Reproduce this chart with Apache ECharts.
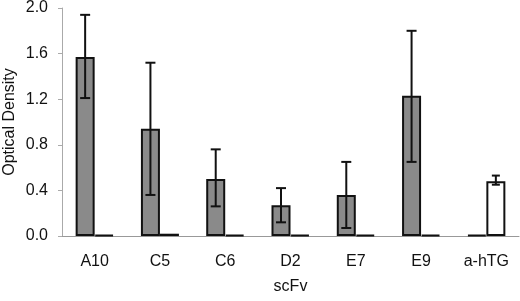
<!DOCTYPE html>
<html>
<head>
<meta charset="utf-8">
<script src="https://cdn.jsdelivr.net/npm/echarts@6/dist/echarts.min.js"></script>
<style>
  html, body { margin: 0; padding: 0; background: #fff; }
  #chart { width: 520px; height: 301px; }
</style>
</head>
<body>
<div id="chart"></div>
<script>
var categories = ['A10', 'C5', 'C6', 'D2', 'E7', 'E9', 'a-hTG'];

// grey bars and their error bars
var greyMean = [1.57, 0.94, 0.50, 0.27, 0.36, 1.23, 0.01];
var greyLow  = [1.21, 0.36, 0.26, 0.12, 0.07, 0.65, null];
var greyHigh = [1.94, 1.52, 0.76, 0.42, 0.65, 1.80, null];

// white bars and their error bars
var whiteMean = [0.01, 0.02, 0.01, 0.01, 0.01, 0.01, 0.48];
var whiteLow  = [null, null, null, null, null, null, 0.45];
var whiteHigh = [null, null, null, null, null, null, 0.53];

var BAR_W = 19;

function errData(low, high) {
    var out = [];
    for (var i = 0; i < categories.length; i++) {
        if (low[i] != null) out.push([i, low[i], high[i]]);
    }
    return out;
}

function errRenderer(offset, cap) {
    return function (params, api) {
        var lo = api.coord([api.value(0), api.value(1)]);
        var hi = api.coord([api.value(0), api.value(2)]);
        var x = lo[0] + offset;
        var st = { stroke: '#111', lineWidth: 2 };
        return {
            type: 'group',
            children: [
                { type: 'line', shape: { x1: x, y1: lo[1], x2: x, y2: hi[1] }, style: st },
                { type: 'line', shape: { x1: x - cap / 2, y1: hi[1], x2: x + cap / 2, y2: hi[1] }, style: st },
                { type: 'line', shape: { x1: x - cap / 2, y1: lo[1], x2: x + cap / 2, y2: lo[1] }, style: st }
            ]
        };
    };
}

var chart = echarts.init(document.getElementById('chart'));
chart.setOption({
    animation: false,
    textStyle: { fontFamily: 'Liberation Sans, Arial, sans-serif' },
    grid: { left: 62, right: 1, top: 8, bottom: 65, containLabel: false, outerBoundsMode: 'none' },
    xAxis: {
        type: 'category',
        data: categories,
        name: 'scFv',
        nameLocation: 'middle',
        nameGap: 43,
        nameMoveOverlap: false,
        nameTextStyle: { fontSize: 16, color: '#111' },
        axisLine: { lineStyle: { color: '#999', width: 1 } },
        axisTick: { show: false },
        axisLabel: { fontSize: 16, color: '#111', margin: 18 }
    },
    yAxis: {
        type: 'value',
        min: 0,
        max: 2.0,
        interval: 0.4,
        name: 'Optical Density',
        nameLocation: 'middle',
        nameGap: 44,
        nameMoveOverlap: false,
        nameTextStyle: { fontSize: 16, color: '#111' },
        axisLine: { show: true, lineStyle: { color: '#aaa', width: 1 } },
        axisTick: { show: true, length: 4, lineStyle: { color: '#aaa' } },
        splitLine: { show: false },
        axisLabel: {
            fontSize: 16, color: '#111', margin: 14,
            formatter: function (v) { return v.toFixed(1); }
        }
    },
    series: [
        {
            type: 'bar',
            data: greyMean,
            barWidth: BAR_W,
            barGap: 0,
            itemStyle: { color: '#8a8a8a', borderColor: '#111', borderWidth: 2 }
        },
        {
            type: 'bar',
            data: whiteMean,
            barWidth: BAR_W,
            barGap: 0,
            itemStyle: { color: '#fff', borderColor: '#111', borderWidth: 2 }
        },
        {
            type: 'custom',
            data: errData(greyLow, greyHigh),
            renderItem: errRenderer(-BAR_W / 2, 10),
            z: 5
        },
        {
            type: 'custom',
            data: errData(whiteLow, whiteHigh),
            renderItem: errRenderer(BAR_W / 2, 8),
            z: 5
        }
    ]
});
</script>
</body>
</html>
